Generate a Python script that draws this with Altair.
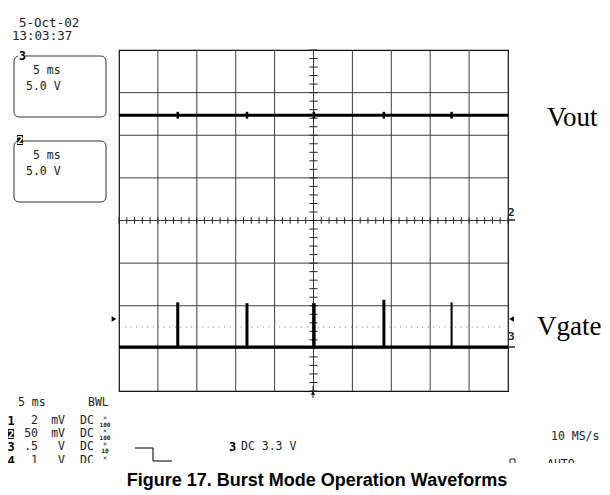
import altair as alt
import pandas as pd

# ---------------- values ----------------
x_domain = [-25, 25]          # ms (10 div x 5 ms)
y_domain = [-4, 4]            # divisions
grid_x = [-20, -15, -10, -5, 0, 5, 10, 15, 20]
grid_y = [-3, -2, -1, 1, 2, 3, 0]

vout_t = [-25, 25]
vout_v = [2.47, 2.47]
bump_t = [-17.45, -8.55, 0.05, 9.05, 17.75]

vgate_t = [-25, 25]
vgate_v = [-2.97, -2.97]
spike_t = [-17.45, -8.55, 0.05, 9.05, 17.75]
spike_top = [-1.92, -1.94, -1.94, -1.86, -1.92]
spike_w = [3, 3, 3.5, 3, 2]
trigger_level = -2.5

row_num = ["1", "2", "3", "4"]
row_val = ["2", "50", ".5", "1"]
row_unit = ["mV", "mV", "V", "V"]
row_probe = ["100", "100", "10", ""]

MONO = "DejaVu Sans Mono"
INK = "#222222"
W, H = 389, 341

one = pd.DataFrame({"a": [0]})
xs = alt.Scale(domain=x_domain, nice=False, zero=False)
ys = alt.Scale(domain=y_domain, nice=False, zero=False)


def X(f):
    return alt.X(f, type="quantitative", scale=xs, axis=None)


def Y(f):
    return alt.Y(f, type="quantitative", scale=ys, axis=None)


def T(t, x, y, size=11, font=MONO, weight="normal", align="left", color=INK, baseline="middle"):
    return alt.Chart(one).mark_text(text=t, font=font, fontSize=size, fontWeight=weight,
                                    align=align, baseline=baseline, color=color).encode(
        x=alt.value(x), y=alt.value(y))


def R(x, x2, y, y2, fill="white", stroke=None, r=0, sw=1):
    kw = dict(fill=fill, cornerRadius=r)
    if stroke:
        kw.update(stroke=stroke, strokeWidth=sw)
    return alt.Chart(one).mark_rect(**kw).encode(
        x=alt.value(x), x2=alt.value(x2), y=alt.value(y), y2=alt.value(y2))


def L(x, x2, y, y2, color=INK, sw=1):
    return alt.Chart(one).mark_rule(color=color, strokeWidth=sw).encode(
        x=alt.value(x), x2=alt.value(x2), y=alt.value(y), y2=alt.value(y2))


def P(shape, x, y, size=28):
    return alt.Chart(one).mark_point(shape=shape, filled=True, size=size, color="black", opacity=1).encode(
        x=alt.value(x), y=alt.value(y))


layers = []

# graticule
gx = pd.DataFrame({"t": grid_x, "y0": -4, "y1": 4})
layers.append(alt.Chart(gx).mark_rule(color="#3c3c3c", strokeWidth=1).encode(x=X("t"), y=Y("y0"), y2=alt.Y2("y1")))
gy = pd.DataFrame({"v": grid_y, "x0": -25, "x1": 25})
layers.append(alt.Chart(gy).mark_rule(color="#3c3c3c", strokeWidth=1).encode(y=Y("v"), x=X("x0"), x2=alt.X2("x1")))

# minor ticks on centre lines
vt = [round(-4 + 0.2 * i, 2) for i in range(41)]
cv = pd.DataFrame({"v": vt, "x0": -0.52, "x1": 0.52})
layers.append(alt.Chart(cv).mark_rule(color="#222", strokeWidth=1).encode(y=Y("v"), x=X("x0"), x2=alt.X2("x1")))
ht = list(range(-25, 26))
ch = pd.DataFrame({"t": ht, "y0": -0.075, "y1": 0.075})
layers.append(alt.Chart(ch).mark_rule(color="#222", strokeWidth=1).encode(x=X("t"), y=Y("y0"), y2=alt.Y2("y1")))

# trigger level dotted line
tl = pd.DataFrame({"x0": [x_domain[0] + 0.8], "x1": [x_domain[1] - 0.8], "v": [trigger_level]})
layers.append(alt.Chart(tl).mark_rule(color="#777", strokeWidth=1, strokeDash=[1, 4.5]).encode(
    x=X("x0"), x2=alt.X2("x1"), y=Y("v")))

# Vout trace
vo = pd.DataFrame({"t": vout_t, "v": vout_v})
layers.append(alt.Chart(vo).mark_line(color="black", strokeWidth=3).encode(x=X("t"), y=Y("v")))
bu = pd.DataFrame({"t": bump_t, "y0": [vout_v[0] - 0.08] * 5, "y1": [vout_v[0] + 0.08] * 5})
layers.append(alt.Chart(bu).mark_rule(color="black", strokeWidth=2.5).encode(x=X("t"), y=Y("y0"), y2=alt.Y2("y1")))

# Vgate trace
vg = pd.DataFrame({"t": vgate_t, "v": vgate_v})
layers.append(alt.Chart(vg).mark_line(color="black", strokeWidth=3).encode(x=X("t"), y=Y("v")))
sp = pd.DataFrame({"t": spike_t, "base": [vgate_v[0]] * 5, "top": spike_top, "w": spike_w})
layers.append(alt.Chart(sp).mark_rule(color="black").encode(
    x=X("t"), y=Y("base"), y2=alt.Y2("top"),
    strokeWidth=alt.StrokeWidth("w:Q", scale=None, legend=None)))

# trigger markers / channel tags
layers += [
    L(194, 194, 336, 348, color="#222", sw=1), P("triangle-up", 194, 343, 18),
    P("triangle-right", -5, 269, 30), P("triangle-left", 392.5, 269, 30),
    T("2", 389, 162.5, size=11, weight="bold"), L(389, 396, 170, 170, sw=1.5),
    T("3", 389, 287, size=11, weight="bold"), L(389, 396, 297, 297, sw=1.5),
]

# header and channel boxes
layers += [
    T("5-Oct-02", -100, -27.5, size=12.5),
    T("13:03:37", -107, -14, size=12.5),
    R(-105, -13, 6, 67, fill="white", stroke="#333", r=5),
    R(-101, -94, 2, 12, fill="white"),
    T("3", -100, 7, size=11.5, weight="bold", color="black"),
    T("5 ms", -86, 21, size=11.5), T("5.0 V", -93, 37, size=11.5),
    R(-105, -13, 91, 152, fill="white", stroke="#333", r=5),
    R(-102, -96, 85, 95, fill="black"),
    T("2", -99, 90.5, size=11, weight="bold", color="white", align="center"),
    T("5 ms", -86, 106, size=11.5), T("5.0 V", -93, 122, size=11.5),
]

# bottom readout
layers += [T("5 ms", -101, 353, size=11.5), T("BWL", -31, 353, size=11.5)]
row_y = [371, 384, 397, 411]
for i in range(4):
    yy = row_y[i]
    if row_num[i] == "2":
        layers.append(R(-111, -105, yy - 5, yy + 5, fill="black"))
        layers.append(T(row_num[i], -108, yy + 0.5, size=11, weight="bold", color="white", align="center"))
    else:
        layers.append(T(row_num[i], -108, yy, size=12, weight="bold", color="black", align="center"))
    layers.append(T(row_val[i], -81, yy, size=11.5, align="right"))
    layers.append(T(row_unit[i], -54, yy, size=11.5, align="right"))
    layers.append(T("DC", -39, yy, size=11.5))
    layers.append(T("×", -14, yy - 3, size=6.5, align="center"))
    if row_probe[i]:
        layers.append(T(row_probe[i], -14, yy + 3.5, size=6, weight="bold", align="center"))

# trigger symbol and readouts
layers += [
    L(16, 34, 398, 398, sw=1.2), L(34, 34, 398, 411, sw=1.2), L(34, 53, 411, 411, sw=1.2),
    T("3", 110, 397, size=12, weight="bold", color="black"),
    T("DC 3.3 V", 122, 397, size=11.5),
    T("10 MS/s", 432, 387, size=11.5),
    R(391, 396, 409, 418, fill="white", stroke="#222", sw=1),
    T("AUTO", 428, 415, size=11.5),
]

# clip of the screen shot bottom, then caption and labels
layers += [
    R(-119, 483, 413, 445, fill="white"),
    T("Figure 17. Burst Mode Operation Waveforms", 198, 436, size=18, font="Liberation Sans",
      weight="bold", align="center", color="black", baseline="alphabetic"),
    T("Vout", 428, 76, size=27, font="Liberation Serif", color="black", baseline="alphabetic"),
    T("Vgate", 418, 285, size=27, font="Liberation Serif", color="black", baseline="alphabetic"),
]

chart = alt.layer(*layers).properties(
    width=W, height=H,
    padding={"left": 111, "top": 42, "right": 94, "bottom": 104},
    autosize=alt.AutoSizeParams(type="none"),
    background="white",
).configure_view(stroke="#111", strokeWidth=1.2)

chart.save("out.html", embed_options={"renderer": "svg", "actions": False})
